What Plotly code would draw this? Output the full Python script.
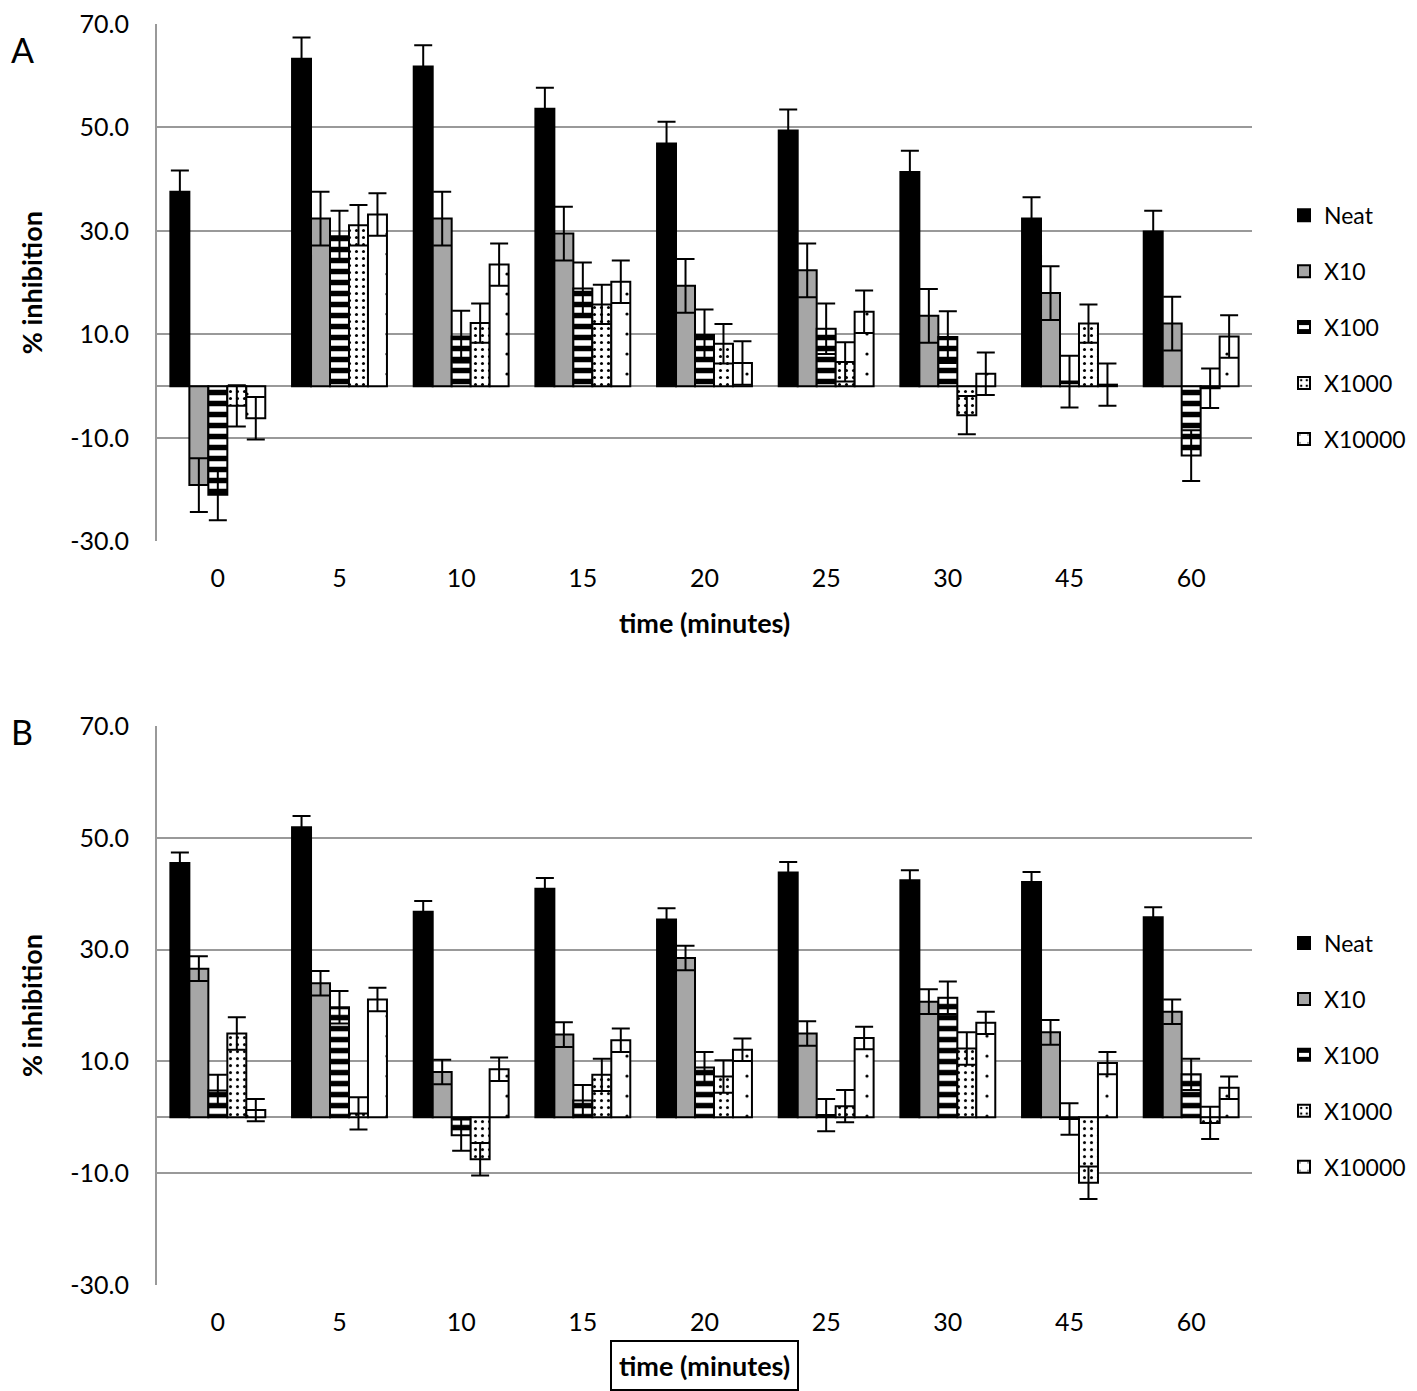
import plotly.graph_objects as go

categories = ["0", "5", "10", "15", "20", "25", "30", "45", "60"]
series_names = ["Neat", "X10", "X100", "X1000", "X10000"]

# Panel A values and errors
neat_a = [37.6, 63.3, 61.8, 53.6, 46.9, 49.4, 41.4, 32.4, 29.9]
neat_a_err = [4.1, 4.1, 4.1, 4.1, 4.2, 4.1, 4.1, 4.1, 4.0]
x10_a = [-19.1, 32.4, 32.4, 29.5, 19.4, 22.4, 13.6, 18.0, 12.1]
x10_a_err = [5.2, 5.2, 5.2, 5.2, 5.2, 5.2, 5.2, 5.2, 5.2]
x100_a = [-21.0, 29.0, 9.6, 18.9, 9.9, 11.1, 9.5, 0.9, -13.4]
x100_a_err = [4.9, 4.9, 5.0, 5.0, 4.9, 4.9, 5.0, 5.0, 4.9]
x1000_a = [-3.8, 31.1, 12.2, 15.8, 8.2, 4.7, -5.6, 12.1, -0.4]
x1000_a_err = [4.0, 3.9, 3.8, 3.8, 3.8, 3.8, 3.7, 3.7, 3.8]
x10000_a = [-6.2, 33.2, 23.5, 20.2, 4.5, 14.4, 2.4, 0.3, 9.6]
x10000_a_err = [4.1, 4.1, 4.1, 4.1, 4.2, 4.1, 4.1, 4.1, 4.1]

# Panel B values and errors
neat_b = [45.5, 51.9, 36.8, 40.9, 35.4, 43.8, 42.4, 42.1, 35.8]
neat_b_err = [1.9, 2.0, 1.9, 1.9, 2.0, 1.9, 1.8, 1.8, 1.8]
x10_b = [26.6, 24.0, 8.1, 14.8, 28.5, 15.0, 20.7, 15.2, 18.9]
x10_b_err = [2.2, 2.2, 2.2, 2.2, 2.2, 2.2, 2.2, 2.2, 2.2]
x100_b = [4.8, 19.7, -3.2, 3.0, 8.9, 0.4, 21.4, -0.3, 7.7]
x100_b_err = [2.8, 2.9, 2.8, 2.8, 2.8, 2.9, 2.9, 2.8, 2.8]
x1000_b = [15.0, 0.7, -7.5, 7.6, 7.3, 2.0, 12.3, -11.7, -1.0]
x1000_b_err = [2.9, 2.9, 2.9, 2.9, 2.9, 2.9, 2.9, 2.9, 2.9]
x10000_b = [1.3, 21.1, 8.6, 13.8, 12.1, 14.2, 16.9, 9.7, 5.3]
x10000_b_err = [2.0, 2.1, 2.1, 2.1, 2.0, 2.0, 2.0, 2.0, 2.0]

y_tick_vals = [-30, -10, 10, 30, 50, 70]
y_tick_text = ["-30.0", "-10.0", "10.0", "30.0", "50.0", "70.0"]

FONT = "Lato, 'Open Sans', sans-serif"

styles = {
    "Neat": dict(color="black", pattern=None),
    "X10": dict(color="#a6a6a6", pattern=None),
    "X100": dict(color="white", pattern=dict(shape="-", fgcolor="black", bgcolor="white",
                                             size=11, solidity=0.5, fillmode="replace")),
    "X1000": dict(color="white", pattern=dict(shape=".", fgcolor="black", bgcolor="white",
                                              size=7, solidity=0.15, fillmode="replace")),
    "X10000": dict(color="white", pattern=dict(shape=".", fgcolor="black", bgcolor="white",
                                               size=20, solidity=0.02, fillmode="replace")),
}

panel_a = [(neat_a, neat_a_err), (x10_a, x10_a_err), (x100_a, x100_a_err),
           (x1000_a, x1000_a_err), (x10000_a, x10000_a_err)]
panel_b = [(neat_b, neat_b_err), (x10_b, x10_b_err), (x100_b, x100_b_err),
           (x1000_b, x1000_b_err), (x10000_b, x10000_b_err)]

fig = go.Figure()

for panel, (xa, ya, leg) in zip([panel_a, panel_b], [("x", "y", "legend"), ("x2", "y2", "legend2")]):
    for name, (vals, errs) in zip(series_names, panel):
        st = styles[name]
        marker = dict(color=st["color"], line=dict(color="black", width=2))
        if st["pattern"]:
            marker["pattern"] = st["pattern"]
        fig.add_trace(go.Bar(
            x=categories, y=vals, name=name, xaxis=xa, yaxis=ya,
            marker=marker, legend=leg, legendgroup=leg + name,
            error_y=dict(type="data", array=errs, visible=True, color="black",
                         thickness=2, width=9),
        ))

axis_common_y = dict(
    range=[-30, 70], tickvals=y_tick_vals, ticktext=y_tick_text,
    showgrid=True, gridcolor="#999999", gridwidth=2,
    zeroline=True, zerolinecolor="#999999", zerolinewidth=2,
    showline=True, linecolor="#999999", linewidth=2,
    ticks="", tickfont=dict(size=25, color="black", family=FONT),
    ticklabelstandoff=21, ticklabeloverflow="allow",
    title=dict(text="<b>% inhibition</b>", font=dict(size=27, color="black", family=FONT), standoff=20),
)
axis_common_x = dict(
    type="category", range=[-0.5, 8.5], showgrid=False, zeroline=False,
    showline=False, ticks="", tickfont=dict(size=25, color="black", family=FONT),
    ticklabelstandoff=20,
)

W, H = 1417, 1391
L, R, T, B = 149, 1417 - 1244, 0, 1391 - 1277
PH = H - T - B
PW = W - L - R

def py(p):
    return (H - B - p) / PH

def px(p):
    return (p - L) / PW

legend_style = dict(xanchor="left", yanchor="top",
                    font=dict(size=23, family=FONT, color="black"),
                    tracegroupgap=23, itemwidth=30, bgcolor="rgba(0,0,0,0)")

fig.update_layout(
    width=W, height=H,
    margin=dict(l=L, r=R, t=T, b=B),
    paper_bgcolor="white", plot_bgcolor="white",
    barmode="group", bargap=0.22, bargroupgap=0,
    font=dict(family=FONT, color="black"),
    xaxis=dict(axis_common_x, domain=[0, 1], anchor="y"),
    yaxis=dict(axis_common_y, domain=[py(524), 1.0], anchor="x"),
    xaxis2=dict(axis_common_x, domain=[0, 1], anchor="y2"),
    yaxis2=dict(axis_common_y, domain=[0.0, py(711)], anchor="x2"),
    legend=dict(legend_style, x=px(1276), y=py(172)),
    legend2=dict(legend_style, x=px(1276), y=py(909)),
    annotations=[
        dict(text="<b>time (minutes)</b>", xref="paper", yref="paper", x=px(696), y=py(606),
             showarrow=False, font=dict(size=27, family=FONT, color="black"),
             xanchor="center", yanchor="middle"),
        dict(text="<b>time (minutes)</b>", xref="paper", yref="paper", x=px(696), y=py(1359),
             showarrow=False, font=dict(size=27, family=FONT, color="black"),
             xanchor="center", yanchor="middle", bordercolor="black", borderwidth=2, borderpad=7),
        dict(text="A", xref="paper", yref="paper", x=px(1), y=py(26), showarrow=False,
             font=dict(size=34, family=FONT, color="black"), xanchor="left", yanchor="middle"),
        dict(text="B", xref="paper", yref="paper", x=px(1), y=py(716), showarrow=False,
             font=dict(size=34, family=FONT, color="black"), xanchor="left", yanchor="middle"),
    ],
)

fig.write_html("out.html")
